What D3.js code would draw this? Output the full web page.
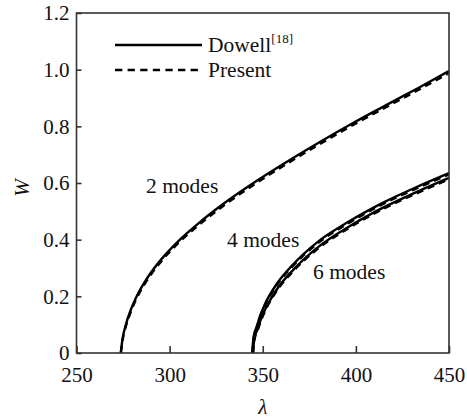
<!DOCTYPE html>
<html>
<head>
<meta charset="utf-8">
<script src="https://cdn.jsdelivr.net/npm/d3@7"></script>
<style>
  body { margin: 0; background: #fff; }
</style>
</head>
<body>
<div id="chart"></div>
<script>
const serif = "'Liberation Serif', 'DejaVu Serif', serif";

// lambda / W readings, 2 modes
const lambda2 = [273.8, 274.3, 275, 276.5, 279, 282, 286, 290, 297, 305, 315, 330, 345, 363, 380, 398, 416, 434, 450];
const dowell2 = [0, 0.03, 0.06, 0.10, 0.15, 0.196, 0.244, 0.284, 0.342, 0.397, 0.455, 0.532, 0.600, 0.675, 0.742, 0.810, 0.874, 0.937, 0.995];
const present2 = [0, 0.026, 0.055, 0.094, 0.143, 0.189, 0.237, 0.277, 0.335, 0.39, 0.448, 0.525, 0.593, 0.668, 0.735, 0.803, 0.867, 0.93, 0.988];

// 4 modes
const lambda4 = [344.4, 344.8, 345.5, 346.6, 348.5, 351, 357.3, 366.2, 378.7, 396.5, 414.4, 432.3, 450];
const dowell4 = [0, 0.04, 0.07, 0.09, 0.13, 0.17, 0.242, 0.312, 0.388, 0.465, 0.53, 0.585, 0.635];
const present4 = [0, 0.036, 0.065, 0.085, 0.125, 0.165, 0.237, 0.307, 0.383, 0.46, 0.525, 0.58, 0.63];

// 6 modes
const lambda6 = [344.8, 345.2, 345.9, 347, 348.9, 351.4, 357.7, 366.6, 379, 396.8, 414.6, 432.5, 450];
const dowell6 = [0, 0.035, 0.062, 0.08, 0.117, 0.155, 0.226, 0.295, 0.37, 0.448, 0.513, 0.568, 0.618];
const present6 = [0, 0.031, 0.057, 0.075, 0.112, 0.15, 0.221, 0.29, 0.365, 0.443, 0.508, 0.563, 0.613];

const xTicks = [250, 300, 350, 400, 450];
const yTicks = [0, 0.2, 0.4, 0.6, 0.8, 1.0, 1.2];

const series = [
    {x: lambda2, y: dowell2, dash: null},
    {x: lambda2, y: present2, dash: "7,5"},
    {x: lambda4, y: dowell4, dash: null},
    {x: lambda4, y: present4, dash: "7,5"},
    {x: lambda6, y: dowell6, dash: null},
    {x: lambda6, y: present6, dash: "7,5"}
];

const modeLabels = [
    {text: "2 modes", x: 146, y: 193},
    {text: "4 modes", x: 227, y: 247},
    {text: "6 modes", x: 313, y: 279}
];

let W = 467, H = 418;
let mLeft = 76.5, mRight = 449, mTop = 13, mBottom = 353;

let svg = d3.select("#chart")
    .append("svg")
    .attr("width", W)
    .attr("height", H)
    .style("font-family", serif);

svg.append("rect")
    .attr("width", W)
    .attr("height", H)
    .attr("fill", "#fff");

let xScale = d3.scaleLinear().domain([250, 450]).range([mLeft, mRight]);
let yScale = d3.scaleLinear().domain([0, 1.2]).range([mBottom, mTop]);

// curves
let line = d3.line()
    .x(d => xScale(d[0]))
    .y(d => yScale(d[1]))
    .curve(d3.curveMonotoneX);

series.forEach(s => {
    let pts = s.x.map((v, i) => [v, s.y[i]]);
    svg.append("path")
        .attr("d", line(pts))
        .attr("fill", "none")
        .attr("stroke", "#000")
        .attr("stroke-width", 2.4)
        .attr("stroke-dasharray", s.dash);
});

// frame
svg.append("rect")
    .attr("x", mLeft)
    .attr("y", mTop)
    .attr("width", mRight - mLeft)
    .attr("height", mBottom - mTop)
    .attr("fill", "none")
    .attr("stroke", "#333")
    .attr("stroke-width", 1.6);

let xAxis = svg.append("g")
    .attr("transform", "translate(0," + mBottom + ")")
    .call(d3.axisBottom(xScale).tickValues(xTicks).tickSizeInner(-7).tickSizeOuter(0).tickPadding(14));

let yAxis = svg.append("g")
    .attr("transform", "translate(" + mLeft + ",0)")
    .call(d3.axisLeft(yScale).tickValues(yTicks).tickSizeInner(-5).tickSizeOuter(0).tickPadding(7)
        .tickFormat(d => d === 0 ? "0" : d3.format(".1f")(d)));

[xAxis, yAxis].forEach(g => {
    g.attr("font-family", null).attr("font-size", null);
    g.select(".domain").remove();
    g.selectAll("line").attr("stroke", "#333").attr("stroke-width", 1.6);
    g.selectAll("text")
        .style("font-family", serif)
        .style("font-size", "21px")
        .attr("fill", "#111");
});

// axis titles
svg.append("text")
    .attr("x", (mLeft + mRight) / 2)
    .attr("y", 414)
    .attr("text-anchor", "middle")
    .style("font-family", serif)
    .style("font-size", "21px")
    .style("font-style", "italic")
    .attr("fill", "#111")
    .text("λ");

svg.append("text")
    .attr("transform", "translate(29,188) rotate(-90)")
    .attr("text-anchor", "middle")
    .style("font-family", serif)
    .style("font-size", "21px")
    .style("font-style", "italic")
    .attr("fill", "#111")
    .text("W");

// mode labels
svg.selectAll(".mode")
    .data(modeLabels)
    .join("text")
    .attr("class", "mode")
    .attr("x", d => d.x)
    .attr("y", d => d.y)
    .style("font-family", serif)
    .style("font-size", "21.5px")
    .attr("fill", "#111")
    .text(d => d.text);

// legend
svg.append("line")
    .attr("x1", 115).attr("x2", 202)
    .attr("y1", 45).attr("y2", 45)
    .attr("stroke", "#000").attr("stroke-width", 2.6);
svg.append("line")
    .attr("x1", 115).attr("x2", 202)
    .attr("y1", 70).attr("y2", 70)
    .attr("stroke", "#000").attr("stroke-width", 2.6)
    .attr("stroke-dasharray", "7.3,5.3");

let dw = svg.append("text")
    .attr("x", 208)
    .attr("y", 52)
    .style("font-family", serif)
    .style("font-size", "21.5px")
    .attr("fill", "#111");
dw.append("tspan").text("Dowell");
dw.append("tspan")
    .attr("dy", -9)
    .style("font-size", "13px")
    .text("[18]");

svg.append("text")
    .attr("x", 208)
    .attr("y", 77)
    .style("font-family", serif)
    .style("font-size", "21.5px")
    .attr("fill", "#111")
    .text("Present");
</script>
</body>
</html>
